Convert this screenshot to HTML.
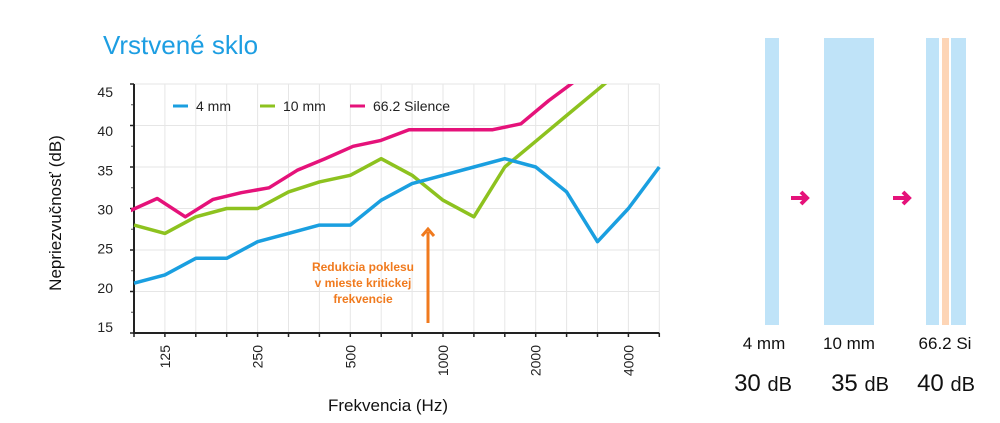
<!DOCTYPE html>
<html><head><meta charset="utf-8">
<style>
html,body{margin:0;padding:0;background:#fff;}
body{width:1000px;height:423px;overflow:hidden;position:relative;font-family:"Liberation Sans",sans-serif;}
svg{position:absolute;left:0;top:0;}
</style></head>
<body>
<svg id="chart" width="1000" height="423" viewBox="0 0 1000 423">
  <text x="103" y="54" font-size="26" fill="#1d9ee2">Vrstvené sklo</text>
  <g id="grid"></g>
  <g id="axes"></g>
  <defs><clipPath id="plotclip"><rect x="131" y="84" width="533" height="250"/></clipPath></defs>
  <g id="series" clip-path="url(#plotclip)"></g>
  <text transform="translate(61,213) rotate(-90)" text-anchor="middle" font-size="17" fill="#111">Nepriezvučnosť (dB)</text>
  <text x="388" y="411" text-anchor="middle" font-size="17" fill="#111">Frekvencia (Hz)</text>
  <g>
    <g><line x1="173" y1="106" x2="188" y2="106" stroke="#1a9fe0" stroke-width="3"/><text x="196" y="111" font-size="14" fill="#222">4 mm</text></g>
    <g><line x1="260" y1="106" x2="275" y2="106" stroke="#8dc21f" stroke-width="3"/><text x="283" y="111" font-size="14" fill="#222">10 mm</text></g>
    <g><line x1="350" y1="106" x2="365" y2="106" stroke="#e5127a" stroke-width="3"/><text x="373" y="111" font-size="14" fill="#222">66.2 Silence</text></g>
  </g>
  <g>
    <text x="363" y="271" text-anchor="middle" font-size="12" font-weight="bold" fill="#f07a1e">Redukcia poklesu</text>
    <text x="363" y="287" text-anchor="middle" font-size="12" font-weight="bold" fill="#f07a1e">v mieste kritickej</text>
    <text x="363" y="303" text-anchor="middle" font-size="12" font-weight="bold" fill="#f07a1e">frekvencie</text>
    <line x1="428" y1="323" x2="428" y2="232" stroke="#f07a1e" stroke-width="3"/>
    <polyline points="422,236 428,229 434,236" fill="none" stroke="#f07a1e" stroke-width="3"/>
  </g>
  <g>
    <rect x="765" y="38" width="14" height="287" fill="#bfe3f8"/>
    <rect x="824" y="38" width="50" height="287" fill="#bfe3f8"/>
    <rect x="926" y="38" width="13" height="287" fill="#bfe3f8"/>
    <rect x="942" y="38" width="7" height="287" fill="#fdd5b6"/>
    <rect x="951" y="38" width="15" height="287" fill="#bfe3f8"/>
    <g><line x1="791" y1="198" x2="806" y2="198" stroke="#e5127a" stroke-width="4"/><polyline points="801,192 807,198 801,204" fill="none" stroke="#e5127a" stroke-width="4"/></g>
    <g><line x1="893" y1="198" x2="908" y2="198" stroke="#e5127a" stroke-width="4"/><polyline points="903,192 909,198 903,204" fill="none" stroke="#e5127a" stroke-width="4"/></g>
    <text x="764" y="349" text-anchor="middle" font-size="17" fill="#111">4 mm</text>
    <text x="849" y="349" text-anchor="middle" font-size="17" fill="#111">10 mm</text>
    <text x="945" y="349" text-anchor="middle" font-size="17" fill="#111">66.2 Si</text>
    <text x="763" y="391" text-anchor="middle" font-size="24" fill="#111">30 <tspan font-size="20">dB</tspan></text>
    <text x="860" y="391" text-anchor="middle" font-size="24" fill="#111">35 <tspan font-size="20">dB</tspan></text>
    <text x="946" y="391" text-anchor="middle" font-size="24" fill="#111">40 <tspan font-size="20">dB</tspan></text>
  </g>
</svg>
<script>
const freqs=["100","125","160","200","250","315","400","500","630","800","1000","1250","1600","2000","2500","3150","4000","5000"];
const tickLabels=["125","250","500","1000","2000","4000"];
const yTicks=[15,20,25,30,35,40,45];
const s4mm=[21,22,24,24,26,27,28,28,31,33,34,35,36,35,32,26,30,35];
const s10mm=[28,27,29,30,30,32,33.2,34,36,34,31,29,35,38.1,41.2,44.3,47.4,50];
// 66.2 Silence sampled on its own (finer) horizontal step in the source chart
const sSilPos=[-0.15,0.75,1.66,2.56,3.47,4.37,5.28,6.18,7.09,7.99,8.90,9.80,10.71,11.61,12.52,13.42,14.33];
const sSil=[29.7,31.2,29,31.1,31.9,32.5,34.6,36,37.5,38.2,39.5,39.5,39.5,39.5,40.2,43,45.5];

const NS="http://www.w3.org/2000/svg";
const X0=134,DX=30.9,Y0=84,YMAX=45,YMIN=15,PXPERDB=8.3;
function xs(i){return X0+i*DX;}
function ys(v){return Y0+(YMAX-v)*PXPERDB;}
function yl(v){return 92+(YMAX-v)*7.83;}
function mk(tag,attrs,parent){const e=document.createElementNS(NS,tag);for(const k in attrs)e.setAttribute(k,attrs[k]);parent.appendChild(e);return e;}
const grid=document.getElementById('grid'),axes=document.getElementById('axes'),series=document.getElementById('series');
const xEnd=xs(freqs.length-1);
for(let i=1;i<freqs.length;i++){
  const l=mk('line',{x1:xs(i),y1:ys(YMAX),x2:xs(i),y2:ys(YMIN),stroke:'#e6e6e6','stroke-width':1},grid);
  
  
}
yTicks.forEach(v=>{
  if(v>YMIN){
    const l=mk('line',{x1:X0,y1:ys(v),x2:xEnd,y2:ys(v),stroke:'#e6e6e6','stroke-width':1},grid);
    
    
  }
  const t=mk('text',{x:113,y:yl(v)+5,'text-anchor':'end','font-size':14,fill:'#222'},axes);
  t.textContent=v;
  
  
  const tk=mk('line',{x1:X0-4,y1:ys(v),x2:X0,y2:ys(v),stroke:'#222','stroke-width':1.5},axes);
  
  
  if(v<YMAX){
    const m=mk('line',{x1:X0-3,y1:ys(v+2.5),x2:X0,y2:ys(v+2.5),stroke:'#555','stroke-width':1},axes);
    
    
  }
});
const ya=mk('line',{x1:X0,y1:ys(YMAX),x2:X0,y2:ys(YMIN)+1,stroke:'#222','stroke-width':2},axes);


const xa=mk('line',{x1:X0-1,y1:ys(YMIN),x2:xEnd,y2:ys(YMIN),stroke:'#222','stroke-width':2},axes);


for(let i=0;i<freqs.length;i++){
  const tk=mk('line',{x1:xs(i),y1:ys(YMIN),x2:xs(i),y2:ys(YMIN)+4,stroke:'#222','stroke-width':1.5},axes);
  
  
  if(tickLabels.includes(freqs[i])){
    const t=mk('text',{transform:`translate(${xs(i)+5},345) rotate(-90)`,'text-anchor':'end','font-size':14,fill:'#222'},axes);
    t.textContent=freqs[i];
    
    
  }
}
function drawLine(pos,vals,color,name){
  const pts=vals.map((v,i)=>xs(pos?pos[i]:i).toFixed(1)+','+ys(v).toFixed(1)).join(' ');
  const p=mk('polyline',{points:pts,fill:'none',stroke:color,'stroke-width':3.5,'stroke-linejoin':'round'},series);
  
  
}
drawLine(null,s10mm,'#8dc21f','series-10mm');
drawLine(null,s4mm,'#1a9fe0','series-4mm');
drawLine(sSilPos,sSil,'#e5127a','series-66-2-silence');
</script>
</body></html>
